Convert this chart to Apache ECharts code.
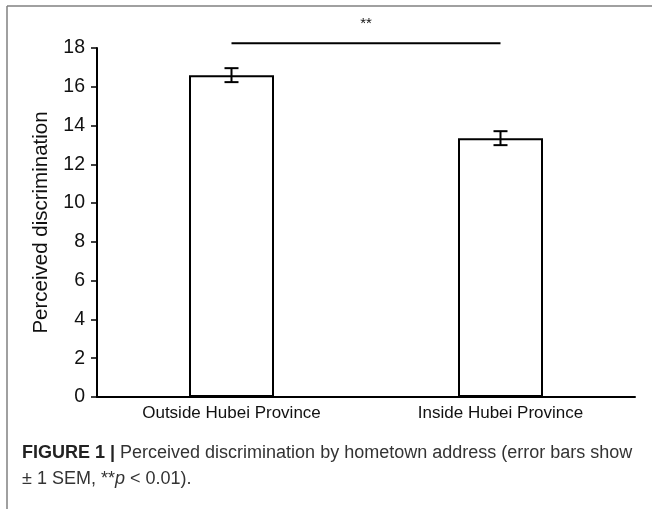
<!DOCTYPE html>
<html>
<head>
<meta charset="utf-8">
<script src="https://cdn.jsdelivr.net/npm/echarts@6/dist/echarts.min.js"></script>
<style>
  html, body { margin: 0; padding: 0; background: #fff; }
  #chart { width: 652px; height: 509px; }
</style>
</head>
<body>
<div id="chart"></div>
<script>
// Perceived discrimination by hometown address
const categories = ['Outside Hubei Province', 'Inside Hubei Province'];
const means = [16.6, 13.35];
const sems = [0.36, 0.36];
const yTicks = { min: 0, max: 18, interval: 2 };
// significance bracket between the two groups
const sigLevel = 18.25;
const sigLabelLevel = 19.25;
const sigLabel = '**';

const FONT = '"Liberation Sans", Arial, sans-serif';
const chart = echarts.init(document.getElementById('chart'), null, { renderer: 'canvas' });

const errData = categories.map((c, i) => [i, means[i] - sems[i], means[i] + sems[i]]);

chart.setOption({
  animation: false,
  backgroundColor: '#fff',
  grid: { left: 97, right: 17, top: 48, bottom: 112, containLabel: false },
  xAxis: {
    type: 'category',
    data: categories,
    axisLine: { lineStyle: { color: '#000', width: 2 } },
    axisTick: { show: false },
    axisLabel: { color: '#111', fontSize: 17, fontFamily: FONT, margin: 8 }
  },
  yAxis: {
    type: 'value',
    min: yTicks.min, max: yTicks.max, interval: yTicks.interval,
    name: 'Perceived discrimination',
    nameLocation: 'middle',
    nameGap: 45,
    nameTextStyle: { color: '#111', fontSize: 20.5, fontFamily: FONT },
    axisLine: { show: true, lineStyle: { color: '#000', width: 2 } },
    axisTick: { show: true, length: 6, lineStyle: { color: '#000', width: 1.5 } },
    axisLabel: { color: '#111', fontSize: 19.5, fontFamily: FONT, margin: 12 },
    splitLine: { show: false }
  },
  series: [
    {
      type: 'bar',
      data: means,
      barWidth: 85,
      itemStyle: { color: '#fff', borderColor: '#000', borderWidth: 2 }
    },
    {
      // error bars (± 1 SEM)
      type: 'custom',
      data: errData,
      z: 5,
      renderItem: function (params, api) {
        const x = api.value(0);
        const lo = api.coord([x, api.value(1)]);
        const hi = api.coord([x, api.value(2)]);
        const cap = 7;
        const st = { stroke: '#000', lineWidth: 2 };
        return {
          type: 'group',
          children: [
            { type: 'line', shape: { x1: lo[0], y1: lo[1], x2: hi[0], y2: hi[1] }, style: st },
            { type: 'line', shape: { x1: lo[0] - cap, y1: lo[1], x2: lo[0] + cap, y2: lo[1] }, style: st },
            { type: 'line', shape: { x1: hi[0] - cap, y1: hi[1], x2: hi[0] + cap, y2: hi[1] }, style: st }
          ]
        };
      }
    },
    {
      // significance bracket
      type: 'custom',
      data: [[0, 1, sigLevel, sigLabelLevel]],
      clip: false,
      z: 5,
      renderItem: function (params, api) {
        const a = api.coord([api.value(0), api.value(2)]);
        const b = api.coord([api.value(1), api.value(2)]);
        const t = api.coord([api.value(0), api.value(3)]);
        return {
          type: 'group',
          children: [
            { type: 'line', shape: { x1: a[0], y1: a[1], x2: b[0], y2: b[1] }, style: { stroke: '#000', lineWidth: 2 } },
            { type: 'text', style: { x: (a[0] + b[0]) / 2, y: t[1], text: sigLabel, textAlign: 'center', textVerticalAlign: 'middle', fill: '#111', font: '15px ' + FONT } }
          ]
        };
      }
    }
  ],
  graphic: [
    // frame lines on the left and top
    { type: 'line', shape: { x1: 7, y1: 6, x2: 7, y2: 509 }, style: { stroke: '#808080', lineWidth: 1.5 } },
    { type: 'line', shape: { x1: 7, y1: 6, x2: 652, y2: 6 }, style: { stroke: '#808080', lineWidth: 1.5 } },
    {
      type: 'text', left: 22, top: 440,
      style: {
        text: '{b|FIGURE 1 |} Perceived discrimination by hometown address (error bars show\n± 1 SEM, **{i|p} < 0.01).',
        fill: '#333',
        font: '18px ' + FONT,
        lineHeight: 26,
        rich: {
          b: { fontWeight: 'bold', fill: '#222', fontSize: 18, fontFamily: FONT, lineHeight: 26 },
          i: { fontStyle: 'italic', fill: '#333', fontSize: 18, fontFamily: FONT, lineHeight: 26 }
        }
      }
    }
  ]
});
</script>
</body>
</html>
